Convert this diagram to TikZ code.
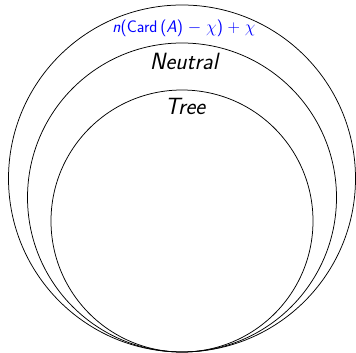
\documentclass[tikz,border=0pt]{standalone}
\usepackage{fontspec}
\begin{document}
\begin{tikzpicture}[x=1pt,y=1pt,
  ring/.style={circle,draw=black,line width=0.75pt,inner sep=0pt,fill=none},
  lbl/.style={inner sep=0pt,anchor=base,font=\sffamily}]
\useasboundingbox (0,0) rectangle (356,353);
\node[ring,minimum size=347pt] (outer) at (182,174.5) {};
\node[ring,minimum size=309pt] (middle) at (182,155.5) {};
\node[ring,minimum size=262pt] (inner) at (182,132) {};
\node[lbl,text=blue,font=\sffamily\fontsize{16.8}{18}\selectfont] (cnt) at (184,320)
  {\textit{n}(Card\,(\textit{A})$\;-\;\chi$)$\;+\;\chi$};
\node[lbl,font=\sffamily\itshape\fontsize{23.5}{25}\selectfont] (neu) at (184,283) {Neutral};
\node[lbl,font=\sffamily\itshape\fontsize{23.5}{25}\selectfont] (tre) at (185,238) {Tree};
\end{tikzpicture}
\end{document}
